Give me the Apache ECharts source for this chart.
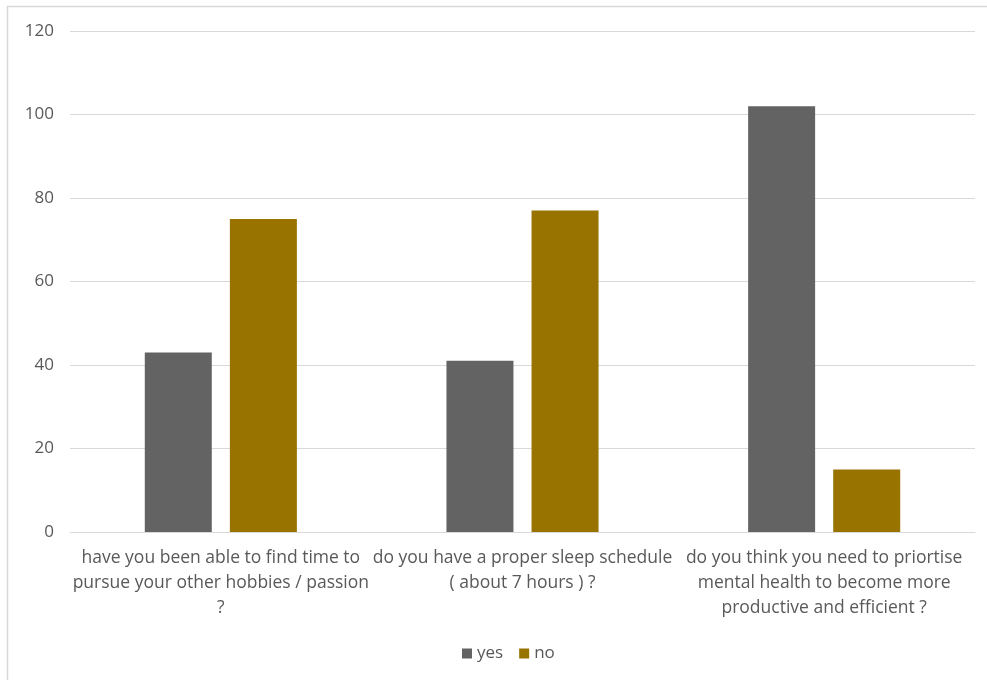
<!DOCTYPE html>
<html>
<head>
<meta charset="utf-8">
<script src="https://cdn.jsdelivr.net/npm/echarts@6/dist/echarts.min.js"></script>
<style>html,body{margin:0;padding:0;background:#fff;}#c{width:987px;height:680px;}</style>
</head>
<body>
<div id="c"></div>
<script>
const categories = [
  "have you been able to find time to\npursue your other hobbies / passion\n?",
  "do you have a proper sleep schedule\n( about 7 hours ) ?",
  "do you think you need to priortise\nmental health to become more\nproductive and efficient ?"
];
const yesValues = [43, 41, 102];
const noValues = [75, 77, 15];
const yTicks = [0, 20, 40, 60, 80, 100, 120];

const chart = echarts.init(document.getElementById('c'), null, {renderer: 'canvas'});
const font = '"Open Sans", Arial, sans-serif';
chart.setOption({
  animation: false,
  backgroundColor: '#fff',
  graphic: [{
    type: 'rect', shape: {x: 7.5, y: 6.5, width: 1000, height: 700},
    style: {fill: 'none', stroke: '#d9d9d9', lineWidth: 1.5}, silent: true
  }],
  grid: {left: 70, right: 12, top: 31, bottom: 148, containLabel: false},
  legend: {
    data: ['yes', 'no'], bottom: 13, left: 457,
    itemWidth: 10, itemHeight: 10, itemGap: 16,
    icon: 'rect',
    textStyle: {color: '#595959', fontSize: 17, fontFamily: font}
  },
  xAxis: {
    type: 'category', data: categories,
    axisLine: {lineStyle: {color: '#d9d9d9', width: 1}},
    axisTick: {show: false},
    axisLabel: {color: '#595959', fontSize: 17.5, fontFamily: font, lineHeight: 25, margin: 14, interval: 0}
  },
  yAxis: {
    type: 'value', min: yTicks[0], max: yTicks[yTicks.length - 1], interval: 20,
    axisLine: {show: false}, axisTick: {show: false},
    splitLine: {lineStyle: {color: '#d9d9d9', width: 1}},
    axisLabel: {color: '#595959', fontSize: 17, fontFamily: font, margin: 16}
  },
  series: [
    {name: 'yes', type: 'bar', data: yesValues, barWidth: 67, barGap: '27%', itemStyle: {color: '#636363'}},
    {name: 'no', type: 'bar', data: noValues, barWidth: 67, itemStyle: {color: '#997300'}}
  ]
});
</script>
</body>
</html>
